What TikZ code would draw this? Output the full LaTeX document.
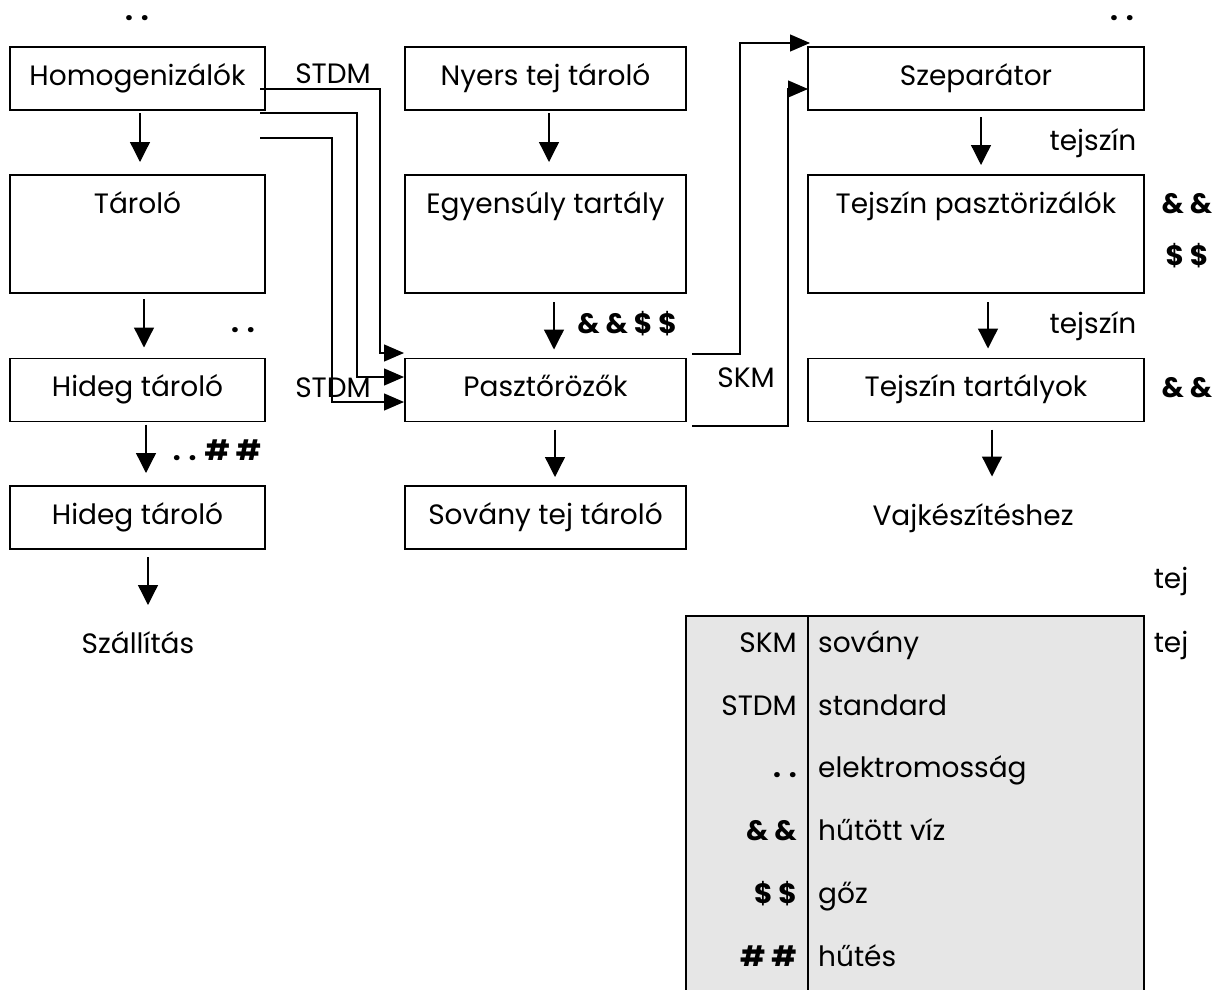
\documentclass[tikz,border=0pt]{standalone}
\usepackage{fontspec}
\setmainfont{Poppins}
\usetikzlibrary{arrows.meta,calc}
\definecolor{legendgray}{HTML}{E6E6E6}
\newcommand\diagsize{\fontsize{28pt}{34pt}\selectfont}

\tikzset{
  unit/.style={draw=black, line width=1.8pt, inner sep=0pt, outer sep=0pt},
  colL/.style={unit, minimum width=255pt},
  colM/.style={unit, minimum width=281pt},
  colR/.style={unit, minimum width=336pt},
  short/.style={minimum height=63pt},
  tall/.style={minimum height=118pt},
  lbl/.style={anchor=base, inner sep=0pt},
  sym/.style={anchor=base, inner sep=0pt, font=\diagsize\bfseries},
  flow/.style={line width=1.3pt, -{Triangle[length=20pt,width=20pt]}},
  feed/.style={line width=1.3pt, -{Triangle[length=20pt,width=17pt]}},
}

\begin{document}
\begin{tikzpicture}[x=1pt, y=-1pt, font=\diagsize]
\useasboundingbox (0,0) rectangle (1226,990);
\clip (0,0) rectangle (1226,990);

% ---- legend table ----
\node[unit, fill=legendgray, anchor=north west, minimum width=458pt, minimum height=390pt] (leg) at (686,616) {};
\coordinate (divtop) at (808,616);
\draw[line width=1.8pt] (divtop) -- (divtop |- leg.south);

% ---- left column ----
\node[colL, short] (hom)  at (137.5,78.5) {};
\node[colL, tall]  (tar)  at (137.5,234)  {};
\node[colL, short] (hid1) at (137.5,390)  {};
\node[colL, short] (hid2) at (137.5,517.5) {};

% ---- middle column ----
\node[colM, short] (nyers) at (545.5,78.5) {};
\node[colM, tall]  (egy)   at (545.5,234)  {};
\node[colM, short] (pas)   at (545.5,390)  {};
\node[colM, short] (sov)   at (545.5,517.5) {};

% ---- right column ----
\node[colR, short] (sep)   at (976,78.5) {};
\node[colR, tall]  (tpast) at (976,234)  {};
\node[colR, short] (ttar)  at (976,390)  {};

% ---- box captions ----
\node[lbl] (homT)   at ($(hom.north)+(0,38)$)   {Homogenizálók};
\node[lbl] (tarT)   at ($(tar.north)+(0,38)$)   {Tároló};
\node[lbl] (hid1T)  at ($(hid1.north)+(0,38)$)  {Hideg tároló};
\node[lbl] (hid2T)  at ($(hid2.north)+(0,38)$)  {Hideg tároló};
\node[lbl] (nyersT) at ($(nyers.north)+(0,38)$) {Nyers tej tároló};
\node[lbl] (egyT)   at ($(egy.north)+(0,38)$)   {Egyensúly tartály};
\node[lbl] (pasT)   at ($(pas.north)+(0,38)$)   {Pasztőrözők};
\node[lbl] (sovT)   at ($(sov.north)+(0,38)$)   {Sovány tej tároló};
\node[lbl] (sepT)   at ($(sep.north)+(0,38)$)   {Szeparátor};
\node[lbl] (tpastT) at ($(tpast.north)+(0,38)$) {Tejszín pasztörizálók};
\node[lbl] (ttarT)  at ($(ttar.north)+(0,38)$)  {Tejszín tartályok};

% ---- end points ----
\node[lbl] (szall) at (138,653) {Szállítás};
\node[lbl] (vaj)   at (973,525) {Vajkészítéshez};

% ---- vertical flow arrows ----
\draw[flow] ($(hom.south)+(2.5,3)$)   -- ($(tar.north)+(2.5,-13)$);
\draw[flow] ($(tar.south)+(6.5,6)$)   -- ($(hid1.north)+(6.5,-11)$);
\draw[flow] ($(hid1.south)+(8.5,3)$)  -- ($(hid2.north)+(8.5,-13)$);
\draw[flow] ($(hid2.south)+(10.5,8)$) -- ($(hid2.south)+(10.5,56)$);

\draw[flow] ($(nyers.south)+(3.5,3)$) -- ($(egy.north)+(3.5,-13)$);
\draw[flow] ($(egy.south)+(8.5,9)$)   -- ($(pas.north)+(8.5,-9)$);
\draw[flow] ($(pas.south)+(9.5,8)$)   -- ($(sov.north)+(9.5,-9)$);

\draw[flow] ($(sep.south)+(5,7)$)     -- ($(tpast.north)+(5,-10)$);
\draw[flow] ($(tpast.south)+(12,9)$)  -- ($(ttar.north)+(12,-10)$);
\draw[flow] ($(ttar.south)+(16,8)$)   -- ($(ttar.south)+(16,55)$);

% ---- standard milk return lines into the pasteurisers ----
\draw[feed] ($(hom.east)+(-5,10.5)$) -- ++(120,0) |- ($(pas.west)+(-1,-37)$);
\draw[feed] ($(hom.east)+(-5,34.5)$) -- ++(97,0)  |- ($(pas.west)+(-1,-13)$);
\draw[feed] ($(hom.east)+(-5,59.5)$) -- ++(72,0)  |- ($(pas.west)+(-1,12)$);

% ---- pasteuriser outputs to the separator ----
\draw[feed] ($(pas.east)+(6,-36)$) -- ++(48,0) |- ($(sep.west)+(2,-35.5)$);
\draw[feed] ($(pas.east)+(6,36)$)  -- ++(96,0) |- ($(sep.west)+(0,10.5)$);

% ---- stream and utility labels ----
\node[sym] (e1) at (137,21)  {. .};
\node[lbl] (s1) at (333,83)  {STDM};
\node[sym] (e2) at (243,332) {. .};
\node[lbl] (s2) at (333,397) {STDM};
\node[sym] (u1) at (217,460) {. . \# \#};
\node[sym] (u2) at (627,333) {\& \& \$ \$};
\node[lbl] (k1) at (746,387) {SKM};
\node[sym] (e3) at (1122,21) {. .};
\node[lbl] (c1) at (1093,150) {tejszín};
\node[lbl] (c2) at (1093,333) {tejszín};
\node[sym] (w1) at (1187,213) {\& \&};
\node[sym] (g1) at (1187,265) {\$ \$};
\node[sym] (w2) at (1187,397) {\& \&};
\node[lbl] (t1) at (1171,588) {tej};
\node[lbl] (t2) at (1171,652) {tej};

% ---- legend entries ----
\foreach \y/\code/\txt/\bold in {
  652/SKM/sovány/0,
  715/STDM/standard/0,
  777/{. .}/elektromosság/1,
  840/{\& \&}/hűtött víz/1,
  903/{\$ \$}/gőz/1,
  966/{\# \#}/hűtés/1}{
  \ifnum\bold=1
    \node[anchor=base east, inner sep=0pt, font=\diagsize\bfseries] at (797,\y) {\code};
  \else
    \node[anchor=base east, inner sep=0pt] at (797,\y) {\code};
  \fi
  \node[anchor=base west, inner sep=0pt] at (818,\y) {\txt};
}
\end{tikzpicture}
\end{document}
